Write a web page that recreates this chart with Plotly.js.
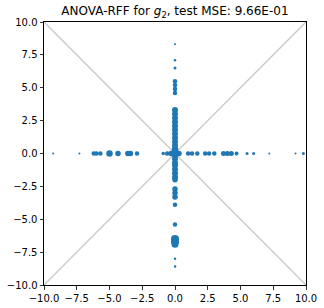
<!DOCTYPE html>
<html>
<head>
<meta charset="utf-8">
<script src="https://cdn.plot.ly/plotly-3.0.1.min.js"></script>
<style>html,body{margin:0;padding:0;background:#fff;}#chart{width:324px;height:308px;}</style>
</head>
<body>
<div id="chart"></div>
<script>
// Points along the x-axis (y = 0)
var hX = [-9.3, -7.3, -6.2, -6.0, -5.7, -5.0, -4.35, -3.6, -3.4, -2.9, -0.9, -0.6, -0.3, 0.0, 0.3, 1.0, 1.3, 1.7, 2.3, 2.6, 3.0, 3.7, 4.0, 4.3, 4.7, 5.5, 6.0, 7.2, 9.2, 9.8];
var hSize = [2, 2, 4.5, 4.5, 4.5, 6.5, 5.5, 5.5, 5.5, 4.5, 3.5, 4.5, 5.5, 8, 5.5, 4.5, 4.5, 4.5, 4.5, 4.5, 4.5, 5, 5, 5, 4, 3, 3, 2, 2, 3];
// Points along the y-axis (x = 0)
var vY = [8.3, 7.1, 6.5, 5.5, 5.2, 4.9, 4.6, 3.3, 3.0, 2.7, 2.4, 2.1, 1.8, 1.5, 1.2, 0.9, 0.6, 0.3, -0.4, -0.7, -0.9, -1.2, -1.5, -1.8, -2.0, -2.7, -3.0, -3.3, -3.9, -5.4, -6.5, -6.7, -6.9, -8.0, -8.6];
var vSize = [2, 2.5, 3, 4.5, 4.5, 4.5, 4.5, 6, 6, 6, 6, 6, 6, 6, 6, 6, 6, 6.5, 6, 6, 6, 6, 6, 6, 5.5, 5.5, 5.5, 5.5, 4.5, 4.5, 8, 8, 7, 2.5, 2.5];
// Reference diagonals
var diagX = [-10, 10];
var diagUp = [-10, 10];
var diagDown = [10, -10];
var tickVals = [-10, -7.5, -5, -2.5, 0, 2.5, 5, 7.5, 10];
var tickText = ['\u221210.0', '\u22127.5', '\u22125.0', '\u22122.5', '0.0', '2.5', '5.0', '7.5', '10.0'];

var xs = hX.concat(vY.map(function(){return 0;}));
var ys = hX.map(function(){return 0;}).concat(vY);
var sz = hSize.concat(vSize);

var traces = [
  {x: diagX, y: diagUp, mode: 'lines', line: {color: '#cccccc', width: 1.5}, hoverinfo: 'skip'},
  {x: diagX, y: diagDown, mode: 'lines', line: {color: '#cccccc', width: 1.5}, hoverinfo: 'skip'},
  {x: xs, y: ys, mode: 'markers', marker: {color: '#1f77b4', opacity: 1, size: sz, line: {width: 0}}}
];
var axisCommon = {
  range: [-10, 10], showgrid: false, zeroline: false, showline: true, mirror: true,
  linecolor: '#000', linewidth: 1, ticks: 'outside', ticklen: 3.5, tickwidth: 0.8, tickcolor: '#000',
  tickvals: tickVals, ticktext: tickText, tickfont: {family: 'DejaVu Sans', size: 10, color: '#000'}
};
var layout = {
  width: 324, height: 308, showlegend: false,
  margin: {l: 44, r: 18, t: 22, b: 23},
  paper_bgcolor: '#fff', plot_bgcolor: '#fff',
  title: {text: 'ANOVA-RFF for <i>g</i><sub>2</sub>, test MSE: 9.66E-01', x: 0.54, xanchor: 'center', y: 0.965, yanchor: 'middle', font: {family: 'DejaVu Sans', size: 12, color: '#000'}},
  xaxis: Object.assign({}, axisCommon),
  yaxis: Object.assign({}, axisCommon)
};
Plotly.newPlot('chart', traces, layout, {displayModeBar: false, staticPlot: true});
</script>
</body>
</html>
